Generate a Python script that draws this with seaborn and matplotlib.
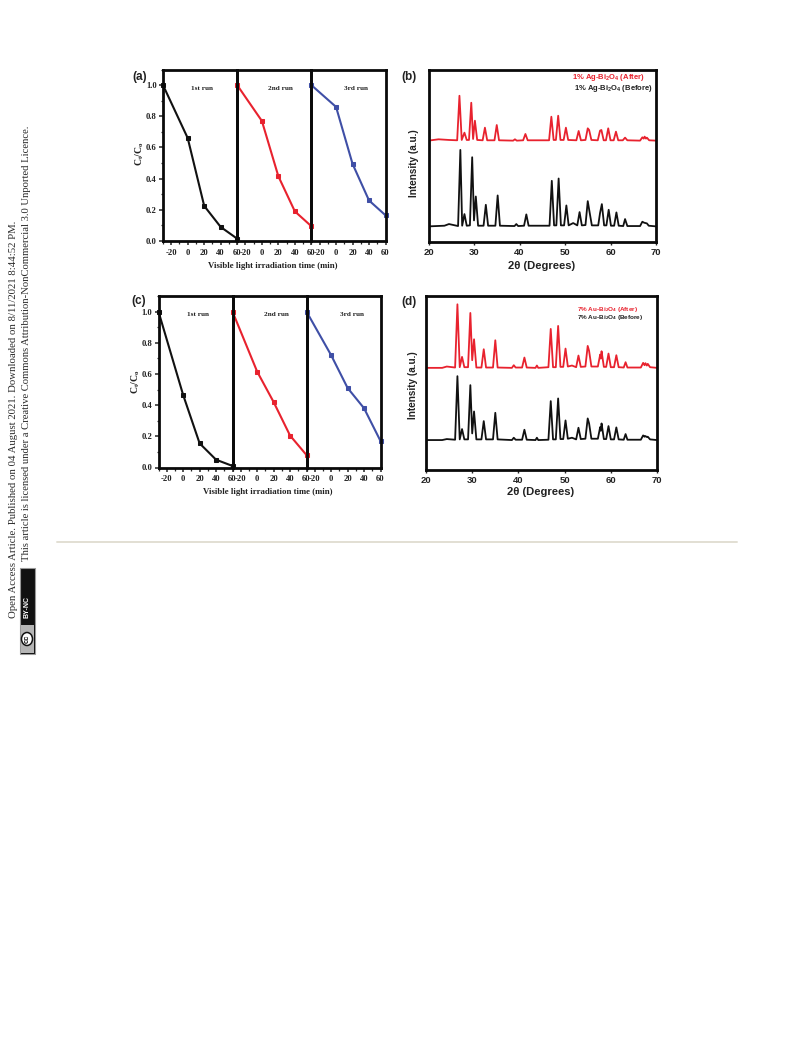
import matplotlib
matplotlib.use("Agg")
import matplotlib.pyplot as plt
from matplotlib.patches import Rectangle, Ellipse
from matplotlib.ticker import MultipleLocator
import seaborn as sns

sns.set_theme(style="white")
plt.rcParams["font.family"] = ["Liberation Serif", "DejaVu Sans"]
plt.rcParams["mathtext.fontset"] = "custom"
plt.rcParams["mathtext.rm"] = "Liberation Sans:bold"
plt.rcParams["mathtext.bf"] = "Liberation Serif:bold"
plt.rcParams["mathtext.default"] = "rm"

# ---------- degradation data ----------
time_min = [-30, 0, 20, 40, 60]
a_run1 = [1.0, 0.66, 0.225, 0.09, 0.015]
a_run2 = [1.0, 0.77, 0.415, 0.19, 0.095]
a_run3 = [1.0, 0.86, 0.495, 0.26, 0.165]
c_run1 = [1.0, 0.465, 0.155, 0.05, 0.01]
c_run2 = [1.0, 0.615, 0.42, 0.205, 0.08]
c_run3 = [1.0, 0.72, 0.51, 0.38, 0.17]
time_ticks = [-20, 0, 20, 40, 60]
run_names = ["1st run", "2nd run", "3rd run"]
run_colors = ["#111111", "#e8222e", "#3f4fa6"]

# ---------- XRD data ----------
b_after_x = [20, 22.2, 24.5, 26.3, 26.8, 27.3, 27.9, 28.4, 28.9, 29.4, 29.8, 30.2, 30.7, 31.9, 32.4, 32.9, 34.5, 35.0, 35.5, 38.6, 39.0, 39.4, 40.8, 41.3, 41.8, 46.5, 47.0, 47.5, 48.0, 48.5, 49.0, 49.7, 50.2, 50.7, 52.5, 53.0, 53.5, 54.5, 55.0, 55.3, 55.8, 57.2, 57.7, 58.0, 58.5, 59.0, 59.5, 60.0, 60.7, 61.2, 61.7, 62.7, 63.2, 63.7, 66.5, 67.0, 67.3, 67.5, 67.8, 68.0, 68.5, 70]
b_after_y = [305, 309, 307, 306, 440, 307, 329, 307, 307, 419, 310, 365, 307, 306, 344, 306, 306, 352, 306, 305, 309, 305, 306, 325, 306, 306, 377, 307, 307, 380, 307, 307, 344, 307, 306, 334, 306, 307, 342, 337, 307, 306, 335, 337, 306, 306, 342, 306, 306, 332, 306, 306, 314, 306, 305, 315, 311, 317, 311, 314, 306, 305]
b_before_x = [20, 23.5, 24.5, 26.5, 27.0, 27.4, 27.9, 28.4, 29.1, 29.6, 30.0, 30.4, 30.9, 32.1, 32.6, 33.1, 34.7, 35.2, 35.7, 38.9, 39.3, 39.7, 41.0, 41.5, 42.0, 46.6, 47.1, 47.6, 48.1, 48.6, 49.1, 49.8, 50.3, 50.8, 51.8, 52.7, 53.2, 53.7, 54.5, 55.0, 55.4, 55.9, 57.3, 57.7, 58.1, 58.6, 59.1, 59.6, 60.1, 60.8, 61.3, 61.8, 62.8, 63.2, 63.7, 66.5, 67.0, 67.4, 67.7, 68.0, 68.4, 70]
b_before_y = [47, 49, 54, 48, 277, 49, 84, 49, 50, 255, 65, 137, 49, 49, 112, 49, 49, 140, 49, 48, 54, 48, 49, 83, 49, 49, 184, 50, 50, 191, 50, 50, 110, 50, 57, 50, 90, 50, 51, 123, 90, 50, 50, 87, 114, 50, 50, 97, 49, 49, 89, 49, 48, 69, 48, 48, 61, 58, 57, 56, 49, 47]
d_x = [20, 23.5, 24.5, 26.3, 26.8, 27.3, 27.8, 28.3, 29.1, 29.6, 30.0, 30.4, 30.9, 32.0, 32.5, 33.0, 34.5, 35.0, 35.5, 38.6, 39.0, 39.4, 40.8, 41.3, 41.8, 43.7, 44.0, 44.3, 46.5, 47.0, 47.5, 48.1, 48.6, 49.1, 49.7, 50.2, 50.7, 51.6, 52.5, 53.0, 53.5, 54.5, 55.0, 55.3, 55.8, 57.2, 57.7, 57.85, 58.0, 58.5, 59.0, 59.5, 60.0, 60.7, 61.2, 61.7, 62.8, 63.2, 63.6, 66.5, 67.0, 67.3, 67.5, 67.8, 68.0, 68.5, 70]
d_after_y = [307, 307, 311, 308, 498, 309, 340, 309, 309, 472, 330, 393, 308, 308, 363, 308, 308, 390, 308, 307, 315, 308, 308, 338, 308, 307, 314, 307, 309, 424, 309, 309, 433, 310, 310, 365, 311, 314, 309, 344, 310, 311, 373, 358, 311, 311, 347, 335, 357, 310, 310, 350, 309, 309, 345, 309, 308, 324, 308, 308, 322, 315, 321, 314, 319, 309, 307]
d_before_y = [90, 90, 93, 91, 282, 92, 123, 92, 92, 255, 110, 176, 92, 92, 147, 92, 92, 172, 92, 90, 97, 91, 91, 121, 91, 90, 97, 90, 91, 207, 92, 92, 215, 93, 93, 149, 94, 97, 92, 127, 93, 94, 155, 140, 94, 94, 129, 118, 140, 93, 93, 132, 92, 92, 128, 92, 91, 108, 91, 91, 104, 100, 102, 99, 100, 92, 90]
xrd_ticks = [20, 30, 40, 50, 60, 70]

b_after_label = "1% Ag-Bi$_2$O$_4$ (After)"
b_before_label = "1% Ag-Bi$_2$O$_4$ (Before)"
d_after_label = "7% Au-Bi$_2$O$_4$ (After)"
d_before_label = "7% Au-Bi$_2$O$_4$ (Before)"

W, H = 793, 1039
fig = plt.figure(figsize=(W / 100, H / 100), dpi=100, facecolor="white")


def px_axes(left, top, right, bottom):
    return fig.add_axes([left / W, 1 - bottom / H, (right - left) / W, (bottom - top) / H])


def px_text(x, y, s, **kw):
    kw.setdefault("ha", "center")
    kw.setdefault("va", "center")
    return fig.text(x / W, 1 - y / H, s, **kw)


SERIF = ["Liberation Serif", "DejaVu Sans"]
SANS = ["Liberation Sans", "DejaVu Sans"]
INK = "#222222"


def runs_panel(left, top, right, bottom, runs, letter, lpos, label_y, run_xs, ypos, xpos):
    width = (right - left) / 3
    for i, (vals, color) in enumerate(zip(runs, run_colors)):
        ax = px_axes(left + i * width, top, left + (i + 1) * width, bottom)
        ax.set_zorder(3 - i)
        ax.patch.set_alpha(0)
        sns.lineplot(x=time_min, y=vals, color=color, lw=1.5, marker="s", ms=2.6,
                     markeredgecolor=color, estimator=None, sort=False, ax=ax, clip_on=False)
        ax.set_xlim(-30, 60)
        ax.set_ylim(0, 1.1)
        ax.set_xticks(time_ticks)
        ax.xaxis.set_minor_locator(MultipleLocator(10))
        ax.tick_params(axis="x", which="major", bottom=True, length=3, width=1.1, pad=2.5)
        ax.tick_params(axis="x", which="minor", bottom=True, length=1.8, width=0.9)
        ax.set_xticklabels([str(t) for t in time_ticks], fontfamily=SERIF, fontweight="bold",
                           fontsize=6.2, color=INK)
        if i == 0:
            ax.set_yticks([0, 0.2, 0.4, 0.6, 0.8, 1.0])
            ax.yaxis.set_minor_locator(MultipleLocator(0.1))
            ax.tick_params(axis="y", which="major", left=True, length=3, width=1.1, pad=1.5)
            ax.tick_params(axis="y", which="minor", left=True, length=1.8, width=0.9)
            ax.set_yticklabels(["0.0", "0.2", "0.4", "0.6", "0.8", "1.0"], fontfamily=SERIF,
                               fontweight="bold", fontsize=6.2, color=INK)
        else:
            ax.set_yticks([])
        for sp in ax.spines.values():
            sp.set_visible(True)
            sp.set_color("#0a0a0a")
            sp.set_linewidth(2.0)
        px_text(run_xs[i], label_y, run_names[i], fontfamily=SERIF, fontweight="bold",
                fontsize=5.2, color=INK)
    px_text(lpos[0], lpos[1], letter, fontfamily=SANS, fontweight="bold", fontsize=8.5, color=INK)
    px_text(ypos[0], ypos[1], r"$\mathbf{C_t/C_o}$", rotation=90, fontsize=7, color=INK)
    px_text(xpos[0], xpos[1], "Visible light irradiation time (min)", fontfamily=SERIF,
            fontweight="bold", fontsize=6.3, color=INK)


def xrd_panel(left, top, right, bottom, ymax, curves, letter, lpos, ypos, xpos, legends):
    ax = px_axes(left, top, right, bottom)
    for x, y, color in curves:
        sns.lineplot(x=x, y=y, color=color, lw=1.3, estimator=None, sort=False, ax=ax)
    ax.set_xlim(20, 70)
    ax.set_ylim(0, ymax)
    ax.set_yticks([])
    ax.set_xticks(xrd_ticks)
    ax.tick_params(axis="x", bottom=True, length=2.5, width=1.0, pad=2)
    ax.set_xticklabels([str(t) for t in xrd_ticks], fontfamily=SANS, fontweight="bold",
                       fontsize=6.8, color=INK)
    for sp in ax.spines.values():
        sp.set_visible(True)
        sp.set_color("#0a0a0a")
        sp.set_linewidth(2.0)
    px_text(lpos[0], lpos[1], letter, fontfamily=SANS, fontweight="bold", fontsize=8.5, color=INK)
    px_text(ypos[0], ypos[1], "Intensity (a.u.)", rotation=90, fontfamily=SANS, fontweight="bold",
            fontsize=7.2, color=INK)
    px_text(xpos[0], xpos[1], "2\u03b8 (Degrees)", fontfamily=SANS, fontweight="bold",
            fontsize=8.1, color=INK)
    for lx, ly, s, c, fs in legends:
        px_text(lx, ly, s, fontfamily="Liberation Sans", fontweight="bold", fontsize=fs, color=c)


runs_panel(163, 69.5, 385.5, 241, [a_run1, a_run2, a_run3], "(a)", (140, 77), 88,
           (202, 280, 356), (140, 154), (273, 266))
runs_panel(158.5, 296, 380.5, 467.5, [c_run1, c_run2, c_run3], "(c)", (139, 301), 314,
           (198, 276, 352), (136, 382), (268, 492))

xrd_panel(428.5, 69.5, 656, 242, 519,
          [(b_after_x, b_after_y, "#e8222e"), (b_before_x, b_before_y, "#111111")],
          "(b)", (409, 77), (414, 163), (542, 266),
          [(608, 77, b_after_label, "#e8222e", 5.5),
           (613, 89, b_before_label, INK, 5.5)])
xrd_panel(426, 296, 657, 470, 523,
          [(d_x, d_after_y, "#e8222e"), (d_x, d_before_y, "#111111")],
          "(d)", (409, 302), (413, 385), (541, 492),
          [(608, 310, d_after_label, "#e8222e", 4.6),
           (610, 318, d_before_label, INK, 4.6)])

# ---------- page furniture ----------
fig.add_artist(plt.Line2D([57 / W, 737 / W], [1 - 541.5 / H, 1 - 541.5 / H], color="#e2dfd3", lw=1.4))
px_text(13.5, 618, "Open Access Article. Published on 04 August 2021. Downloaded on 8/11/2021 8:44:52 PM.",
        rotation=90, ha="center", va="bottom", fontfamily=SERIF, fontsize=7.75, color="#2a2a2a")
px_text(27, 561, "This article is licensed under a Creative Commons Attribution-NonCommercial 3.0 Unported Licence.",
        rotation=90, ha="center", va="bottom", fontfamily=SERIF, fontsize=7.68, color="#2a2a2a")
fig.add_artist(Rectangle((19.5 / W, 1 - 654 / H), 15 / W, 86 / H, transform=fig.transFigure,
                         fc="#111111", ec="#999999", lw=0.8))
fig.add_artist(Rectangle((20.5 / W, 1 - 653 / H), 13 / W, 28 / H, transform=fig.transFigure,
                         fc="#b5b5b5", ec="none"))
fig.add_artist(Ellipse((27 / W, 1 - 639 / H), 11 / W, 13 / H, transform=fig.transFigure,
                       fc="white", ec="#111111", lw=1.1))
px_text(27, 639, "cc", rotation=90, fontfamily=SANS, fontweight="bold", fontsize=5.5, color="#111111")
px_text(27, 607, "BY-NC", rotation=90, fontfamily=SANS, fontweight="bold", fontsize=5, color="white")

fig.savefig("out.png", dpi=100, facecolor="white")
